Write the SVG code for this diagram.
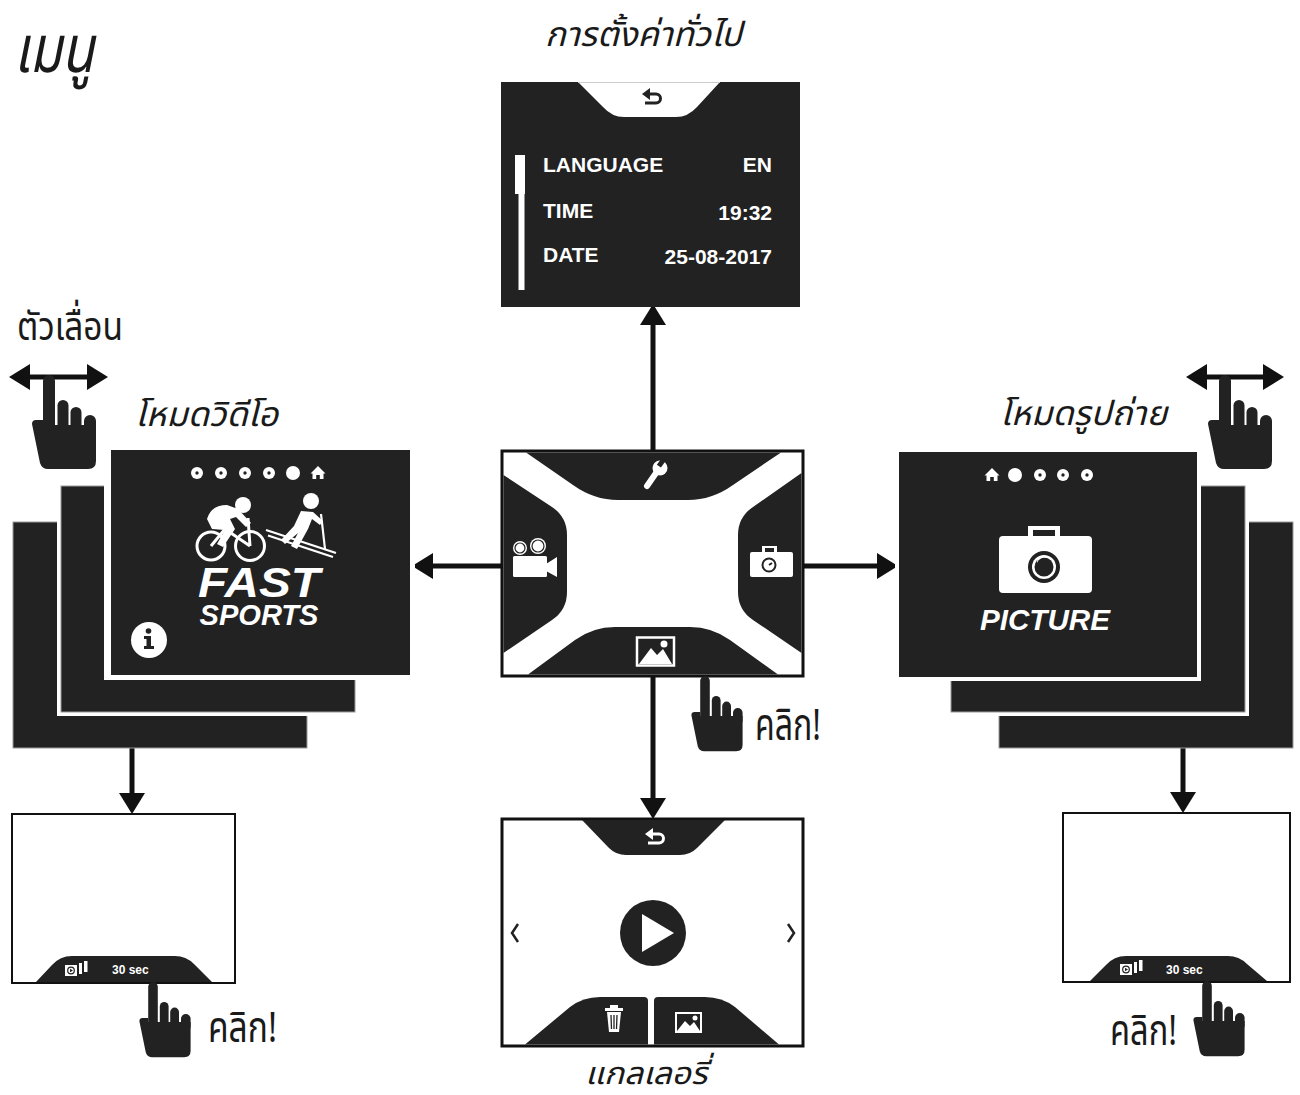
<svg xmlns="http://www.w3.org/2000/svg" xmlns:xlink="http://www.w3.org/1999/xlink" width="1300" height="1095" viewBox="0 0 1300 1095">
  <style>
    .scr { fill: #222; }
    .gap { fill: #fff; }
    .card { fill: #222; stroke: #9a9a9a; stroke-width: 1; }
    .frame { fill: #fff; stroke: #111; }
    .th { font-family: "Noto Sans Thai", "Loma", "Garuda", "Tlwg Typo", "Noto Sans", sans-serif; fill: #1a1a1a; }
    .thi { font-style: italic; }
    .menu { font-family: "Liberation Sans", Arial, sans-serif; font-weight: bold; fill: #fff; font-size: 21px; }
    .logo { font-family: "Liberation Sans", Arial, sans-serif; font-weight: bold; font-style: italic; fill: #fff; }
    .small { font-family: "Liberation Sans", Arial, sans-serif; font-weight: bold; fill: #fff; font-size: 12px; }
    .conn line { stroke: #111; stroke-width: 5; }
    .w { fill: #fff; }
    .d { fill: #222; }
  </style>
  <defs>
    <marker id="head" markerUnits="userSpaceOnUse" markerWidth="22" markerHeight="26" refX="10" refY="13" orient="auto-start-reverse">
      <path d="M0,0 L21,13 L0,26 Z" fill="#111"/>
    </marker>
    <!-- pointing hand, fingertip at the origin -->
    <g id="hand" fill="#222">
      <rect x="-6" y="0" width="12" height="58" rx="6"/>
      <rect x="8.5" y="25" width="11" height="32" rx="5.5"/>
      <rect x="21.5" y="32" width="11" height="26" rx="5.5"/>
      <rect x="35" y="40" width="12" height="22" rx="6"/>
      <path d="M-17,49 Q-17,45 -13,45 L-6,45 L-6,50 L47,50 L47,86 Q47,94 39,94 L-1,94 Q-7,94 -9,88 Z"/>
    </g>
    <!-- return arrow -->
    <g id="back" fill="none" stroke-width="3">
      <path d="M-3,-4 L4,-4 A4.5,4.5 0 0 1 4,5 L-7,5"/>
    </g>
    <path id="backhead" d="M-10,-4 L-2,-10 L-2,2 Z"/>
    <!-- house glyph -->
    <path id="home" d="M0,-7 L7.5,0.5 L5.5,0.5 L5.5,6 L1.8,6 L1.8,2 L-1.8,2 L-1.8,6 L-5.5,6 L-5.5,0.5 L-7.5,0.5 Z"/>
    <!-- page dot -->
    <g id="ring"><circle r="6" fill="#fff"/><circle r="1.7" fill="#222"/></g>
    <!-- playback glyph used on the review bars -->
    <g id="clips">
      <rect x="0" y="2" width="12" height="11" fill="#fff"/>
      <circle cx="6" cy="7.5" r="3.3" fill="none" stroke="#222" stroke-width="1.2"/>
      <path d="M5,5.8 L8,7.5 L5,9.2 Z" fill="#222"/>
      <rect x="14" y="0" width="3" height="11" fill="#fff"/>
      <rect x="19" y="-2" width="3.5" height="11" fill="#fff"/>
    </g>
  </defs>

  <!-- headings -->
  <text class="th thi" x="14" y="72" font-size="66" textLength="80" lengthAdjust="spacingAndGlyphs">เมนู</text>
  <text class="th thi" x="545" y="46" font-size="34" textLength="197" lengthAdjust="spacingAndGlyphs">การตั้งค่าทั่วไป</text>
  <text class="th" x="17" y="340" font-size="40" textLength="106" lengthAdjust="spacingAndGlyphs">ตัวเลื่อน</text>
  <text class="th thi" x="135" y="426" font-size="34" textLength="143" lengthAdjust="spacingAndGlyphs">โหมดวิดีโอ</text>
  <text class="th thi" x="1000" y="425" font-size="34" textLength="167" lengthAdjust="spacingAndGlyphs">โหมดรูปถ่าย</text>
  <text class="th thi" x="585" y="1084" font-size="31" textLength="122" lengthAdjust="spacingAndGlyphs">แกลเลอรี่</text>

  <!-- connectors -->
  <g class="conn" id="connectors">
    <line x1="653" y1="451" x2="653" y2="315" marker-end="url(#head)"/>
    <line x1="502" y1="566" x2="423" y2="566" marker-end="url(#head)"/>
    <line x1="803" y1="566" x2="887" y2="566" marker-end="url(#head)"/>
    <line x1="653" y1="676" x2="653" y2="808" marker-end="url(#head)"/>
    <line x1="132" y1="748" x2="132" y2="803" marker-end="url(#head)"/>
    <line x1="1183" y1="748" x2="1183" y2="802" marker-end="url(#head)"/>
  </g>

  <!-- general settings screen -->
  <g id="settings">
    <rect class="scr" x="501" y="82" width="299" height="225"/>
    <path class="w" d="M578,82 L720,82 L697,107 Q688,117 676,117 L624,117 Q612,117 603,107 Z"/>
    <line x1="578" y1="82.5" x2="720" y2="82.5" stroke="#ccc" stroke-width="1"/>
    <g transform="translate(652,98)"><use href="#back" stroke="#222"/><use href="#backhead" fill="#222"/></g>
    <rect class="w" x="515" y="155" width="10" height="39"/>
    <rect class="w" x="518.5" y="194" width="6" height="96"/>
    <text class="menu" x="543" y="172" font-weight="600">LANGUAGE</text>
    <text class="menu" x="772" y="172" text-anchor="end">EN</text>
    <text class="menu" x="543" y="218">TIME</text>
    <text class="menu" x="772" y="220" text-anchor="end">19:32</text>
    <text class="menu" x="543" y="262" font-weight="600">DATE</text>
    <text class="menu" x="772" y="264" text-anchor="end">25-08-2017</text>
  </g>

  <!-- main menu screen -->
  <g id="main-menu">
    <rect class="frame" x="502" y="451" width="301" height="225" stroke-width="3"/>
    <path class="d" d="M526,452.5 L781,452.5 L733,485 Q712,500 688,500 L618,500 Q594,500 573,485 Z"/>
    <path class="d" d="M503.5,475 L552,507 Q567,517 567,535 L567,592 Q567,610 552,620 L503.5,653 Z"/>
    <path class="d" d="M801.5,473 L753,507 Q738,517 738,535 L738,592 Q738,610 753,620 L801.5,653 Z"/>
    <path class="d" d="M528,674.5 L575,640 Q593,627 615,627 L690,627 Q712,627 730,640 L778,674.5 Z"/>
    <!-- wrench -->
    <line x1="647" y1="486" x2="656" y2="473" stroke="#fff" stroke-width="6" stroke-linecap="round"/>
    <circle class="w" cx="660" cy="468" r="7.5"/>
    <rect class="d" x="659" y="458" width="5" height="9" transform="rotate(35 661.5 462.5)"/>
    <!-- movie camera -->
    <circle class="w" cx="520" cy="548" r="7"/>
    <circle cx="520" cy="548" r="5" fill="none" stroke="#222" stroke-width="1.2"/>
    <circle class="w" cx="538" cy="546" r="8"/>
    <circle cx="538" cy="546" r="6" fill="none" stroke="#222" stroke-width="1.2"/>
    <rect class="w" x="513" y="556" width="34" height="21" rx="1.5"/>
    <path class="w" d="M546,564 L557,557 L557,577 L546,571 Z"/>
    <!-- photo camera -->
    <rect class="w" x="762" y="546" width="15" height="7"/>
    <rect class="d" x="765" y="548" width="9" height="4"/>
    <rect class="w" x="750" y="552" width="43" height="25" rx="2"/>
    <circle cx="769" cy="565" r="6.5" fill="#fff" stroke="#222" stroke-width="2"/>
    <line x1="769" y1="565" x2="772" y2="563" stroke="#222" stroke-width="2"/>
    <!-- gallery glyph -->
    <rect x="637" y="637.5" width="37" height="28" fill="none" stroke="#fff" stroke-width="2.5"/>
    <path class="w" d="M639,664 L651,648 L657,655 L663,649 L672,664 Z"/>
    <circle class="w" cx="664" cy="644" r="3.5"/>
  </g>

  <!-- video mode stack -->
  <g id="video-mode">
    <rect class="card" x="13" y="522" width="294" height="226"/>
    <rect class="gap" x="57" y="482" width="302" height="234"/>
    <rect class="card" x="61" y="486" width="294" height="226"/>
    <rect class="gap" x="104" y="444" width="311" height="236"/>
    <rect class="scr" x="111" y="450" width="299" height="225"/>
    <use href="#ring" x="197" y="473"/>
    <use href="#ring" x="221" y="473"/>
    <use href="#ring" x="245" y="473"/>
    <use href="#ring" x="269" y="473"/>
    <circle class="w" cx="293" cy="473" r="7"/>
    <use href="#home" x="318" y="473" fill="#fff"/>
    <!-- cyclist -->
    <g fill="none" stroke="#fff" stroke-width="3">
      <circle cx="211" cy="546" r="14"/>
      <circle cx="250" cy="546" r="14.5"/>
      <path d="M211,546 L225,529 L250,546 M250,546 L248,518"/>
    </g>
    <circle class="w" cx="243" cy="505" r="8"/>
    <path class="w" d="M207,519 Q211,505 227,505 L238,509 L251,523 L246,527 L236,517 L230,519 L235,529 L223,547 L217,544 L225,530 L212,529 Z"/>
    <!-- skier -->
    <circle class="w" cx="311" cy="501" r="8"/>
    <path class="w" d="M301,511 L313,512 L323,521 L320,525 L312,519 L308,529 L297,549 L291,546 L298,533 L285,544 L281,540 L294,526 Z"/>
    <g stroke="#fff" fill="none" stroke-width="2.2">
      <line x1="266" y1="530" x2="336" y2="553"/>
      <line x1="268" y1="535.5" x2="333" y2="557"/>
      <line x1="321" y1="514" x2="325" y2="549"/>
    </g>
    <text class="logo" x="259" y="597" font-size="42" text-anchor="middle" textLength="122" lengthAdjust="spacingAndGlyphs">FAST</text>
    <text class="logo" x="259" y="625" font-size="29" text-anchor="middle" textLength="119" lengthAdjust="spacingAndGlyphs">SPORTS</text>
    <circle class="w" cx="149" cy="640" r="18"/>
    <circle class="d" cx="148.5" cy="631" r="2.8"/>
    <path class="d" d="M144,636 L151,636 L151,646 L154,646 L154,649 L144,649 L144,646 L146.5,646 L146.5,639 L144,639 Z"/>
  </g>

  <!-- picture mode stack -->
  <g id="picture-mode">
    <rect class="card" x="999" y="522" width="294" height="226"/>
    <rect class="gap" x="947" y="482" width="302" height="234"/>
    <rect class="card" x="951" y="486" width="294" height="226"/>
    <rect class="gap" x="895" y="448" width="306" height="233"/>
    <rect class="scr" x="899" y="452" width="298" height="225"/>
    <use href="#home" x="992" y="475" fill="#fff"/>
    <circle class="w" cx="1015" cy="475" r="7"/>
    <use href="#ring" x="1040" y="475"/>
    <use href="#ring" x="1063" y="475"/>
    <use href="#ring" x="1087" y="475"/>
    <rect class="w" x="1028" y="526" width="32" height="12"/>
    <rect class="d" x="1033" y="530" width="22" height="7"/>
    <rect class="w" x="999" y="536" width="93" height="57" rx="4"/>
    <circle class="d" cx="1044" cy="567" r="16"/>
    <circle class="w" cx="1044" cy="567" r="12"/>
    <circle class="d" cx="1044" cy="567" r="9.5"/>
    <path class="w" d="M1037,563 A8,8 0 0 1 1047,558 A6,6 0 0 0 1037,563 Z"/>
    <text class="logo" x="1045" y="630" font-size="30" text-anchor="middle" textLength="130" lengthAdjust="spacingAndGlyphs">PICTURE</text>
  </g>

  <!-- video review screen -->
  <g id="video-review">
    <rect class="frame" x="12" y="814" width="223" height="169" stroke-width="2"/>
    <path class="d" d="M36,982 L52,965 Q60,956 72,956 L175,956 Q186,956 194,964 L212,982 Z"/>
    <use href="#clips" x="65" y="963"/>
    <text class="small" x="112" y="974">30 sec</text>
  </g>

  <!-- photo review screen -->
  <g id="photo-review">
    <rect class="frame" x="1063" y="813" width="227" height="169" stroke-width="2"/>
    <path class="d" d="M1090,981 L1106,965 Q1114,956 1126,956 L1228,956 Q1239,956 1247,964 L1267,981 Z"/>
    <use href="#clips" x="1120" y="962"/>
    <text class="small" x="1166" y="974">30 sec</text>
  </g>

  <!-- gallery screen -->
  <g id="gallery">
    <rect class="frame" x="502" y="819" width="301" height="227" stroke-width="3"/>
    <path class="d" d="M582,820 L725,820 L697,848 Q690,855 680,855 L626,855 Q616,855 609,848 Z"/>
    <g transform="translate(655,838)"><use href="#back" stroke="#fff"/><use href="#backhead" fill="#fff"/></g>
    <circle class="d" cx="653" cy="933" r="33"/>
    <path class="w" d="M642,914 L674,933 L642,952 Z"/>
    <polyline points="518,924 512,933 518,942" fill="none" stroke="#222" stroke-width="2.5"/>
    <polyline points="788,924 794,933 788,942" fill="none" stroke="#222" stroke-width="2.5"/>
    <path class="d" d="M525,1044.5 L570,1007 Q583,997 600,997 L644,997 Q648,997 648,1001 L648,1044.5 Z"/>
    <path class="d" d="M654,1044.5 L654,1001 Q654,997 658,997 L705,997 Q722,997 735,1007 L779,1044.5 Z"/>
    <!-- bin -->
    <rect class="w" x="610" y="1005" width="8" height="3"/>
    <rect class="w" x="605" y="1008" width="18" height="3"/>
    <path class="w" d="M607,1012 L621,1012 L619,1032 L609,1032 Z"/>
    <g stroke="#222" stroke-width="1.3"><line x1="611" y1="1015" x2="611.5" y2="1029"/><line x1="614" y1="1015" x2="614" y2="1029"/><line x1="617" y1="1015" x2="616.5" y2="1029"/></g>
    <!-- picture -->
    <rect x="676" y="1013" width="25" height="19" fill="none" stroke="#fff" stroke-width="2"/>
    <path class="w" d="M677,1031 L685,1021 L690,1026 L694,1022 L700,1031 Z"/>
    <circle class="w" cx="695" cy="1018" r="2.5"/>
  </g>

  <!-- hands -->
  <g id="slider-left">
    <line x1="20" y1="377" x2="97" y2="377" stroke="#111" stroke-width="5" marker-start="url(#head)" marker-end="url(#head)"/>
    <use href="#hand" transform="translate(49,375)"/>
  </g>
  <g id="slider-right">
    <line x1="1197" y1="377" x2="1273" y2="377" stroke="#111" stroke-width="5" marker-start="url(#head)" marker-end="url(#head)"/>
    <use href="#hand" transform="translate(1225,375)"/>
  </g>
  <g id="click-gallery">
    <use href="#hand" transform="translate(705,676) scale(0.8)"/>
    <text class="th" x="755" y="740" font-size="44" textLength="66" lengthAdjust="spacingAndGlyphs">คลิก!</text>
  </g>
  <g id="click-video">
    <use href="#hand" transform="translate(153,982) scale(0.8)"/>
    <text class="th" x="208" y="1042" font-size="42" textLength="69" lengthAdjust="spacingAndGlyphs">คลิก!</text>
  </g>
  <g id="click-photo">
    <use href="#hand" transform="translate(1207,981) scale(0.8)"/>
    <text class="th" x="1110" y="1045" font-size="42" textLength="67" lengthAdjust="spacingAndGlyphs">คลิก!</text>
  </g>
</svg>
